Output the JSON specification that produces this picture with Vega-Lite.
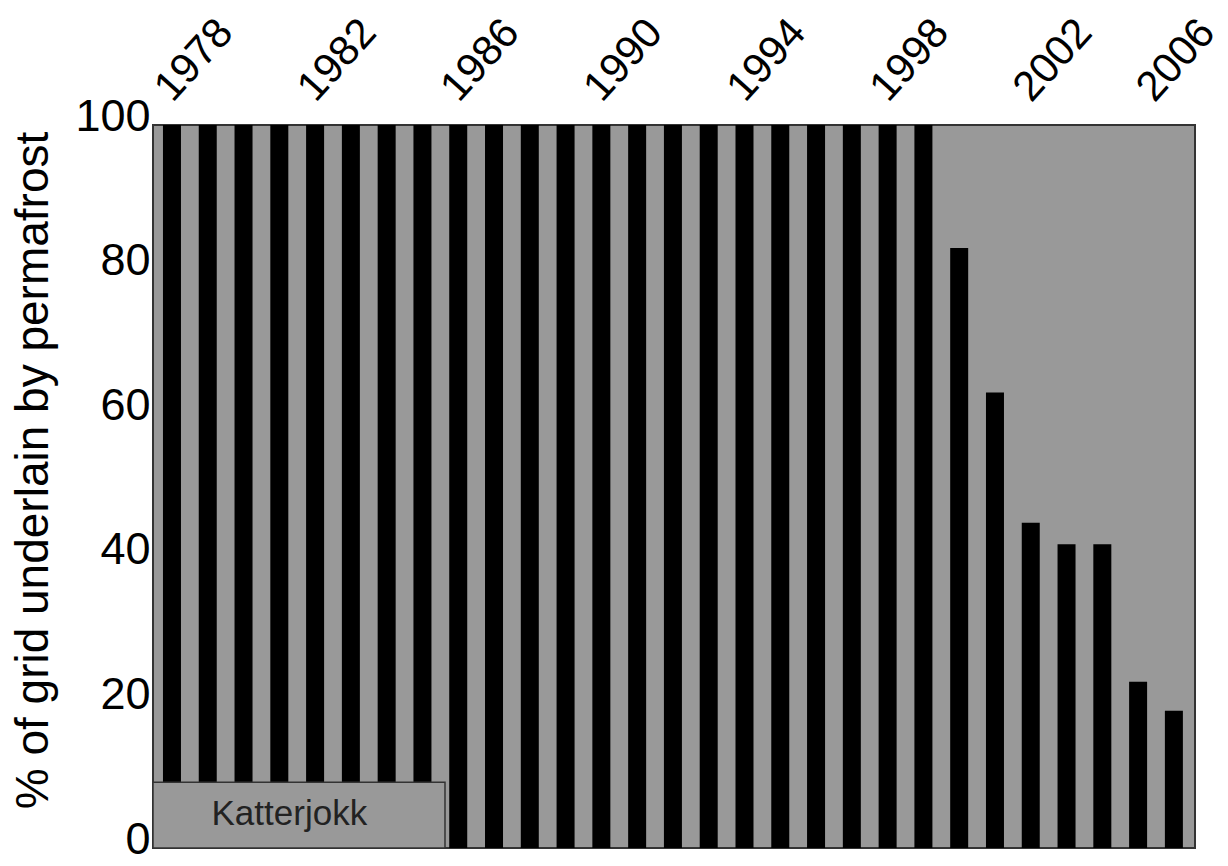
{
  "$schema": "https://vega.github.io/schema/vega-lite/v6.json",
  "width": 1042,
  "height": 723,
  "autosize": "none",
  "padding": {"left": 153, "top": 125, "right": 33, "bottom": 18},
  "background": "white",
  "config": {
    "view": {"fill": "#999999", "stroke": "#333333", "strokeWidth": 2},
    "font": "Liberation Sans, Arial, sans-serif"
  },
  "datasets": {
    "permafrost": [
      {"year": 1978, "percent": 100},
      {"year": 1979, "percent": 100},
      {"year": 1980, "percent": 100},
      {"year": 1981, "percent": 100},
      {"year": 1982, "percent": 100},
      {"year": 1983, "percent": 100},
      {"year": 1984, "percent": 100},
      {"year": 1985, "percent": 100},
      {"year": 1986, "percent": 100},
      {"year": 1987, "percent": 100},
      {"year": 1988, "percent": 100},
      {"year": 1989, "percent": 100},
      {"year": 1990, "percent": 100},
      {"year": 1991, "percent": 100},
      {"year": 1992, "percent": 100},
      {"year": 1993, "percent": 100},
      {"year": 1994, "percent": 100},
      {"year": 1995, "percent": 100},
      {"year": 1996, "percent": 100},
      {"year": 1997, "percent": 100},
      {"year": 1998, "percent": 100},
      {"year": 1999, "percent": 100},
      {"year": 2000, "percent": 83},
      {"year": 2001, "percent": 63},
      {"year": 2002, "percent": 45},
      {"year": 2003, "percent": 42},
      {"year": 2004, "percent": 42},
      {"year": 2005, "percent": 23},
      {"year": 2006, "percent": 19}
    ],
    "site": [
      {"label": "Katterjokk", "x0": 1977.47, "x1": 1985.63, "y0": 0, "y1": 9.1, "tx": 1981.28, "ty": 3.2}
    ]
  },
  "layer": [
    {
      "data": {"name": "permafrost"},
      "mark": {"type": "bar", "color": "black", "size": 18},
      "encoding": {
        "x": {
          "field": "year",
          "type": "quantitative",
          "scale": {"domain": [1977.47, 2006.59], "nice": false, "zero": false, "padding": 0},
          "axis": {
            "orient": "top",
            "values": [1978, 1982, 1986, 1990, 1994, 1998, 2002, 2006],
            "format": "d",
            "labelAngle": -48,
            "labelAlign": "left",
            "labelBaseline": "alphabetic",
            "labelFontSize": 42,
            "labelColor": "black",
            "labelPadding": 22,
            "labelOffset": {"condition": {"test": "datum.value === 2006", "value": -20}, "value": 0},
            "labelFlush": false,
            "labelOverlap": false,
            "ticks": false,
            "tickSize": 0,
            "domain": false,
            "grid": false,
            "title": null
          }
        },
        "y": {
          "field": "percent",
          "type": "quantitative",
          "scale": {"domain": [0, 100], "nice": false},
          "axis": {
            "values": [0, 20, 40, 60, 80, 100],
            "labelFontSize": 45,
            "labelColor": "black",
            "labelPadding": 3,
            "labelOffset": -9,
            "labelFlush": false,
            "labelOverlap": false,
            "ticks": false,
            "tickSize": 0,
            "domain": false,
            "grid": false,
            "title": "% of grid underlain by permafrost",
            "titleFontSize": 46,
            "titleFontWeight": "normal",
            "titleColor": "black",
            "titleAngle": -90,
            "titleAlign": "center",
            "titleBaseline": "alphabetic",
            "titleX": -106,
            "titleY": 345
          }
        }
      }
    },
    {
      "data": {"name": "site"},
      "mark": {"type": "rect", "fill": "#999999", "stroke": "#333333", "strokeWidth": 1.5},
      "encoding": {
        "x": {"field": "x0", "type": "quantitative"},
        "x2": {"field": "x1"},
        "y": {"field": "y0", "type": "quantitative"},
        "y2": {"field": "y1"}
      }
    },
    {
      "data": {"name": "site"},
      "mark": {
        "type": "text",
        "fontSize": 35,
        "align": "center",
        "baseline": "alphabetic",
        "color": "#222222"
      },
      "encoding": {
        "x": {"field": "tx", "type": "quantitative"},
        "y": {"field": "ty", "type": "quantitative"},
        "text": {"field": "label"}
      }
    }
  ]
}
